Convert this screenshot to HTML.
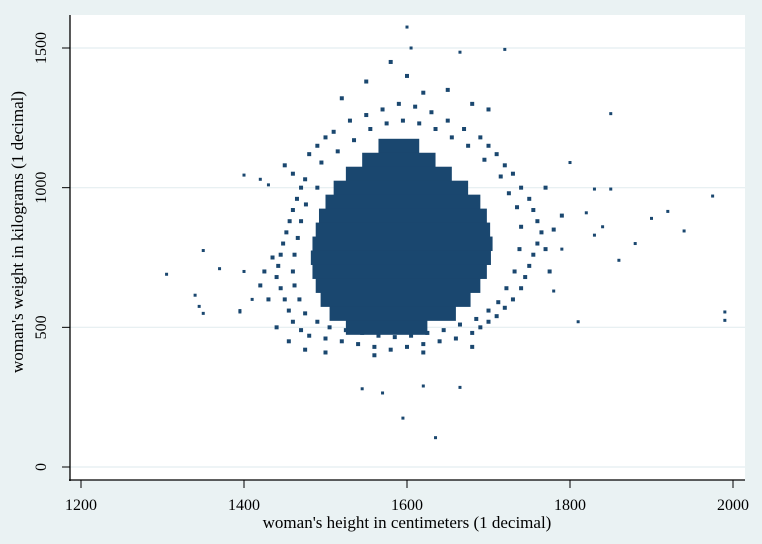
<!DOCTYPE html>
<html><head><meta charset="utf-8"><style>
html,body{margin:0;padding:0;background:#eaf2f3;}
svg{display:block;font-family:"Liberation Serif",serif;}
</style></head><body>
<svg id="chart" width="762" height="544">
<rect x="0" y="0" width="762" height="544" fill="#eaf2f3"/>
<rect x="70" y="15" width="675" height="465" fill="#ffffff"/>
<g id="grid"></g><g id="marks"></g><g id="axes"></g>
</svg>
<script>
const xTicks=[1200,1400,1600,1800,2000];
const yTicks=[0,500,1000,1500];
// dense core: weight band centre, min height, max height (overplotted region)
const bandW=[1150,1100,1050,1000,950,900,850,800,750,700,650,600,550,500];
const bandMinH=[1565,1545,1525,1510,1500,1492,1488,1484,1482,1484,1488,1494,1505,1525];
const bandMaxH=[1615,1635,1655,1675,1690,1698,1702,1705,1703,1698,1690,1678,1660,1625];
// halo observations [height, weight]
const haloPts=[[1450,1080],[1460,1050],[1470,1000],[1480,1120],[1490,1150],[1500,1180],[1510,1200],[1530,1240],[1550,1260],[1570,1280],[1590,1300],[1610,1290],[1630,1270],[1650,1240],[1670,1210],[1690,1180],[1700,1150],[1710,1120],[1720,1080],[1730,1050],[1740,1000],[1750,960],[1755,920],[1760,880],[1765,840],[1760,800],[1755,760],[1750,720],[1745,680],[1740,640],[1730,600],[1720,570],[1710,540],[1700,520],[1690,500],[1680,480],[1660,460],[1640,450],[1620,440],[1600,430],[1580,420],[1560,430],[1540,440],[1520,450],[1500,460],[1480,470],[1470,490],[1460,520],[1455,560],[1450,600],[1445,640],[1440,680],[1442,720],[1445,760],[1448,800],[1452,840],[1456,880],[1460,920],[1465,960],[1475,1030],[1495,1090],[1515,1130],[1535,1170],[1555,1210],[1575,1230],[1595,1240],[1615,1230],[1635,1210],[1655,1180],[1675,1150],[1695,1100],[1715,1040],[1725,980],[1735,930],[1740,860],[1738,780],[1732,700],[1722,640],[1712,590],[1700,560],[1685,530],[1665,510],[1645,490],[1625,480],[1605,470],[1585,465],[1565,470],[1545,480],[1525,490],[1505,500],[1490,520],[1475,550],[1468,600],[1462,650],[1460,700],[1462,760],[1466,820],[1470,880],[1476,940],[1490,1000],[1430,600],[1425,700],[1435,750],[1420,650],[1440,500],[1455,450],[1475,420],[1500,410],[1560,400],[1620,410],[1680,430],[1770,780],[1775,700],[1780,850],[1790,900],[1770,1000],[1650,1350],[1600,1400],[1550,1380],[1580,1450],[1620,1340],[1680,1300],[1520,1320],[1700,1280]];
// sparse outlying observations
const sparseH=[1305,1340,1345,1350,1350,1370,1395,1400,1420,1430,1545,1570,1595,1620,1635,1665,1600,1605,1720,1665,1810,1850,1900,1920,1940,1975,1990,1990,1880,1830,1850,1800,1820,1780,1790,1830,1840,1860,1410,1400,1395];
const sparseW=[690,615,575,550,775,710,555,1045,1030,1010,280,265,175,290,105,285,1575,1500,1495,1485,520,1265,890,915,845,970,555,525,800,995,995,1090,910,630,780,830,860,740,600,700,560];
const x=v=>81+(v-1200)*(733-81)/800;
const y=v=>467-v*(467-48)/1500;
const ns="http://www.w3.org/2000/svg";
const grid=document.getElementById('grid'),marks=document.getElementById('marks'),axes=document.getElementById('axes');
function mk(t,a,p){const e=document.createElementNS(ns,t);for(const k in a)e.setAttribute(k,a[k]);p.appendChild(e);return e;}
yTicks.forEach(t=>{
 const g=mk('line',{x1:70,x2:745,y1:y(t),y2:y(t),stroke:'#e4eef0','stroke-width':1.2},grid);
 
 
 const tk=mk('line',{x1:62,x2:70,y1:y(t),y2:y(t),stroke:'#000'},axes);
 
 
 const tx=mk('text',{x:46,y:y(t),'font-size':16,'text-anchor':'middle',transform:`rotate(-90 46 ${y(t)})`},axes);
 tx.textContent=t;
 
 
});
xTicks.forEach(t=>{
 const tk=mk('line',{x1:x(t),x2:x(t),y1:480,y2:488,stroke:'#000'},axes);
 
 
 const tx=mk('text',{x:x(t),y:510,'font-size':16,'text-anchor':'middle'},axes);
 tx.textContent=t;
 
 
});
bandW.forEach((w,i)=>{
 const r=mk('rect',{x:x(bandMinH[i]),y:y(w+25),width:x(bandMaxH[i])-x(bandMinH[i]),height:y(w-25)-y(w+25)+0.5,fill:'#1a476f'},marks);
 
 
});
haloPts.forEach(p=>{
 const r=mk('rect',{x:x(p[0])-2,y:y(p[1])-2,width:4,height:4,fill:'#1a476f'},marks);
 
 
});
sparseH.forEach((h,i)=>{
 const r=mk('rect',{x:x(h)-1.5,y:y(sparseW[i])-1.5,width:3,height:3,fill:'#1a476f'},marks);
 
 
});
const la=mk('line',{x1:70,x2:70,y1:15,y2:481,stroke:'#000','stroke-width':1.3},axes);


const lb=mk('line',{x1:69,x2:745,y1:480,y2:480,stroke:'#000','stroke-width':1.3},axes);


const xt=mk('text',{x:407,y:528,'font-size':17,'text-anchor':'middle'},axes);
xt.textContent="woman's height in centimeters (1 decimal)";


const yt=mk('text',{x:23,y:232,'font-size':17,'text-anchor':'middle',transform:'rotate(-90 23 232)'},axes);
yt.textContent="woman's weight in kilograms (1 decimal)";


</script>
</body></html>
